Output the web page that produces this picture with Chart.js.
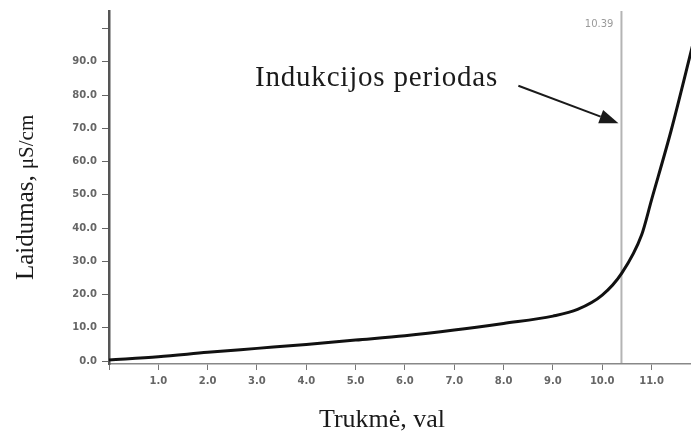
<!DOCTYPE html>
<html>
<head>
<meta charset="utf-8">
<script src="https://cdn.jsdelivr.net/npm/chart.js@4"></script>
<style>
  html, body { margin: 0; padding: 0; background: #fff; }
  #wrap { width: 691px; height: 435px; position: relative; }
</style>
</head>
<body>
<div id="wrap"><canvas id="chart"></canvas></div>
<script>
// --- Data ---
const hours = [0.0, 1.0, 2.0, 3.0, 4.0, 5.0, 6.0, 7.0, 8.0, 9.0, 9.5, 10.0, 10.4, 10.8, 11.0, 11.4, 11.85];
const conductivity = [0.3, 1.3, 2.6, 3.8, 5.0, 6.3, 7.6, 9.3, 11.3, 13.5, 15.5, 19.8, 26.5, 38.0, 48.5, 69.5, 96.0];
const inductionEnd = 10.39;          // end of induction period, h
const arrowTip = [10.39, 71.5];      // [h, µS/cm]
const arrowTail = [8.3, 82.8];

const yTitle = 'Laidumas,';
const yUnit = 'μS/cm';
const xTitle = 'Trukmė, val';
const noteText = 'Indukcijos periodas';

const points = hours.map((h, i) => ({ x: h, y: conductivity[i] }));

// --- Annotations: marker line, arrow, titles ---
const annotations = {
    id: 'annotations',
    beforeDatasetsDraw(chart) {
        const { ctx, chartArea, scales } = chart;
        const x = scales.x.getPixelForValue(inductionEnd);
        ctx.save();
        ctx.strokeStyle = '#b4b4b4';
        ctx.lineWidth = 2;
        ctx.beginPath();
        ctx.moveTo(x, chartArea.top);
        ctx.lineTo(x, chartArea.bottom - 1);
        ctx.stroke();

        ctx.fillStyle = '#9a9a9a';
        ctx.font = '10px "DejaVu Sans"';
        ctx.textAlign = 'right';
        ctx.textBaseline = 'middle';
        ctx.fillText(inductionEnd.toFixed(2), x - 8, 24);
        ctx.restore();
    },
    afterDraw(chart) {
        const { ctx, scales } = chart;
        ctx.save();
        ctx.fillStyle = '#1a1a1a';

        // note text and arrow
        ctx.font = '29px "Liberation Serif"';
        ctx.letterSpacing = '0.8px';
        ctx.textAlign = 'left';
        ctx.textBaseline = 'alphabetic';
        ctx.fillText(noteText, 255, 86);
        ctx.letterSpacing = '0px';

        const tx = scales.x.getPixelForValue(arrowTip[0]) - 3;
        const ty = scales.y.getPixelForValue(arrowTip[1]);
        const sx = scales.x.getPixelForValue(arrowTail[0]);
        const sy = scales.y.getPixelForValue(arrowTail[1]);
        const ang = Math.atan2(ty - sy, tx - sx);
        const headLen = 19, headW = 7;
        const bx = tx - headLen * Math.cos(ang), by = ty - headLen * Math.sin(ang);
        ctx.strokeStyle = '#1a1a1a';
        ctx.lineWidth = 2;
        ctx.beginPath();
        ctx.moveTo(sx, sy);
        ctx.lineTo(bx, by);
        ctx.stroke();
        ctx.beginPath();
        ctx.moveTo(tx, ty);
        ctx.lineTo(bx + headW * Math.sin(ang), by - headW * Math.cos(ang));
        ctx.lineTo(bx - headW * Math.sin(ang), by + headW * Math.cos(ang));
        ctx.closePath();
        ctx.fill();

        // x title
        ctx.font = '26px "Liberation Serif"';
        ctx.textAlign = 'center';
        ctx.fillText(xTitle, 382, 427);

        // y title, rotated, unit in a smaller size
        ctx.translate(33, 280);
        ctx.rotate(-Math.PI / 2);
        ctx.textAlign = 'left';
        ctx.font = '25px "Liberation Serif"';
        ctx.fillText(yTitle, 0, 0);
        const w = ctx.measureText(yTitle).width;
        ctx.font = '21px "Liberation Serif"';
        ctx.fillText(yUnit, w + 6, 0);
        ctx.restore();
    }
};

const tickFont = { family: 'DejaVu Sans', size: 10, weight: 'bold' };

new Chart(document.getElementById('chart'), {
    type: 'scatter',
    data: {
        datasets: [{
            data: points,
            showLine: true,
            borderColor: '#111',
            borderWidth: 3,
            pointRadius: 0,
            cubicInterpolationMode: 'monotone'
        }]
    },
    options: {
        responsive: true,
        maintainAspectRatio: false,
        animation: false,
        layout: { padding: { top: 10, right: 0, left: 0, bottom: 0 } },
        plugins: {
            legend: { display: false },
            tooltip: { enabled: false }
        },
        scales: {
            x: {
                type: 'linear',
                min: 0,
                max: 11.8,
                afterFit: (s) => { s.height = 71; },
                border: { display: true, color: '#888', width: 1.5 },
                grid: { drawOnChartArea: false, drawTicks: true, tickLength: 6, color: '#777' },
                ticks: {
                    stepSize: 1,
                    includeBounds: false,
                    maxRotation: 0,
                    autoSkip: false,
                    padding: 5,
                    color: '#666',
                    font: tickFont,
                    callback: (v) => (v === 0 ? '' : v.toFixed(1))
                }
            },
            y: {
                min: -0.9,
                max: 105.3,
                afterFit: (s) => { s.width = 109; },
                border: { display: true, color: '#555', width: 2.5 },
                grid: { drawOnChartArea: false, drawTicks: true, tickLength: 7, color: '#666' },
                ticks: {
                    stepSize: 10,
                    includeBounds: false,
                    autoSkip: false,
                    padding: 5,
                    color: '#666',
                    font: tickFont,
                    callback: (v) => (v === 100 ? '' : v.toFixed(1))
                }
            }
        }
    },
    plugins: [annotations]
});
</script>
</body>
</html>
